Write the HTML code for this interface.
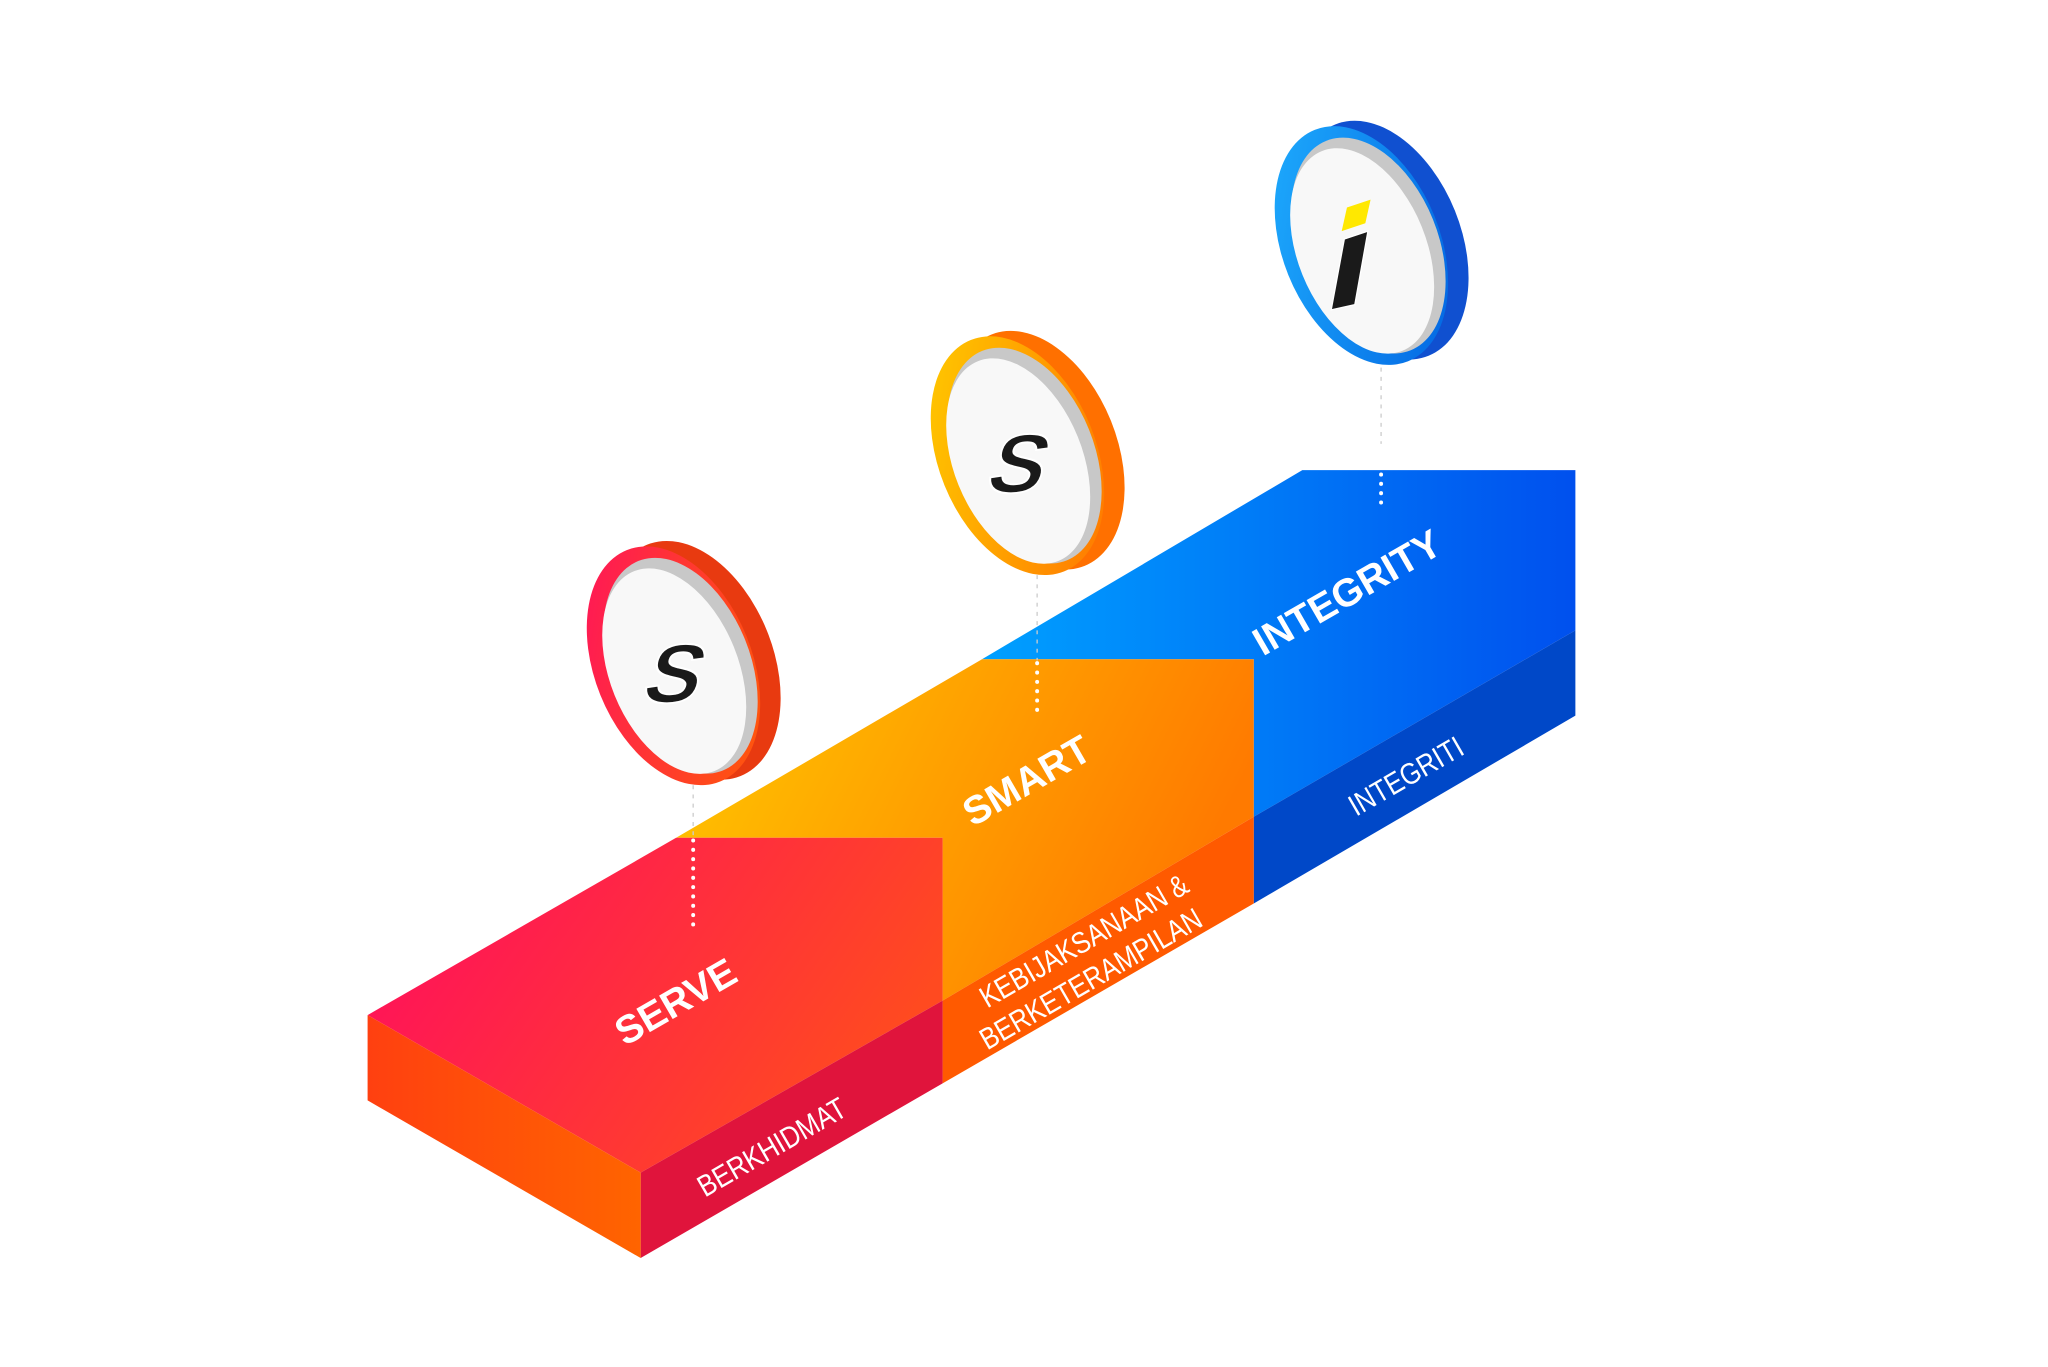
<!DOCTYPE html>
<html><head><meta charset="utf-8"><style>html,body{margin:0;padding:0;background:#fff;width:2048px;height:1367px;overflow:hidden}svg{display:block}</style></head>
<body>
<svg width="2048" height="1367" viewBox="0 0 1560 1041" preserveAspectRatio="none" xmlns="http://www.w3.org/2000/svg" font-family="Liberation Sans, sans-serif">
<defs>
<linearGradient id="rTop" x1="0" y1="0" x2="1" y2="0.4"><stop offset="0" stop-color="#ff0a62"/><stop offset="1" stop-color="#ff4a20"/></linearGradient>
<linearGradient id="rLeft" x1="0" y1="0" x2="1" y2="0"><stop offset="0" stop-color="#ff4010"/><stop offset="1" stop-color="#ff6400"/></linearGradient>
<linearGradient id="oTop" x1="0" y1="0" x2="1" y2="0.3"><stop offset="0" stop-color="#ffc800"/><stop offset="1" stop-color="#ff7a00"/></linearGradient>
<linearGradient id="bTop" x1="0" y1="0" x2="1" y2="0"><stop offset="0" stop-color="#00a0ff"/><stop offset="1" stop-color="#0050ee"/></linearGradient>
<linearGradient id="dR" x1="0" y1="0" x2="1" y2="1"><stop offset="0" stop-color="#ff1060"/><stop offset="1" stop-color="#ff6000"/></linearGradient>
<linearGradient id="dO" x1="0" y1="0" x2="1" y2="1"><stop offset="0" stop-color="#ffd000"/><stop offset="1" stop-color="#ff7000"/></linearGradient>
<linearGradient id="dB" x1="0" y1="0" x2="1" y2="1"><stop offset="0" stop-color="#20b0ff"/><stop offset="1" stop-color="#0060e0"/></linearGradient>
</defs>
<polygon points="748,502 992,358 1200,358 1200,480 955,622 955,502" fill="url(#bTop)"/>
<polygon points="955,622 1200,480 1200,545 955,688" fill="#0048c8"/>
<polygon points="515,638 748,502 955,502 955,622 718,762 718,638" fill="url(#oTop)"/>
<polygon points="718,762 955,622 955,688 718,825" fill="#ff5a00"/>
<polygon points="280,773 515,638 718,638 718,762 488,893" fill="url(#rTop)"/>
<polygon points="488,893 718,762 718,825 488,958" fill="#e0143c"/>
<polygon points="280,773 488,893 488,958 280,838" fill="url(#rLeft)"/>
<g stroke="#fff" stroke-width="3" stroke-dasharray="0.1 7" stroke-linecap="round">
<line x1="528" y1="640" x2="528" y2="705"/><line x1="790" y1="505" x2="790" y2="545"/><line x1="1052" y1="340" x2="1052" y2="385"/></g>
<g stroke="#ccc" stroke-width="1" stroke-dasharray="3 4" fill="none">
<line x1="528" y1="598" x2="528" y2="638"/><line x1="790" y1="438" x2="790" y2="503"/><line x1="1052" y1="280" x2="1052" y2="338"/></g>
<g fill="#fff" font-weight="bold" font-size="30">
<text transform="translate(476,797) rotate(-30)">SERVE</text>
<text transform="translate(741,630) rotate(-30)">SMART</text>
<text transform="translate(962,500) rotate(-30)">INTEGRITY</text>
</g>
<g fill="#fff" font-size="23">
<text transform="translate(537,912) rotate(-30) scale(0.85,1)">BERKHIDMAT</text>
<text transform="translate(752,768) rotate(-30) scale(0.85,1)">KEBIJAKSANAAN &amp;</text>
<text transform="translate(752,800) rotate(-30) scale(0.85,1)">BERKETERAMPILAN</text>
<text transform="translate(1033,622) rotate(-30) scale(0.85,1)">INTEGRITI</text>
</g>
<g transform="translate(513,507) rotate(-22)">
<ellipse cx="16" cy="2" rx="60" ry="95" fill="#e83a10"/>
<ellipse cx="0" cy="0" rx="60" ry="95" fill="url(#dR)"/>
<ellipse cx="5" cy="2" rx="53" ry="86" fill="#c8c8c8"/>
<ellipse cx="-1" cy="4" rx="49" ry="82" fill="#f8f8f8"/>
</g>
<text transform="translate(508,535) skewX(-18)" font-size="64" font-weight="bold" fill="#1a1a1a" stroke="#fff" stroke-width="1.5" text-anchor="middle">S</text>
<g transform="translate(775,347) rotate(-22)">
<ellipse cx="16" cy="2" rx="60" ry="95" fill="#ff7000"/>
<ellipse cx="0" cy="0" rx="60" ry="95" fill="url(#dO)"/>
<ellipse cx="5" cy="2" rx="53" ry="86" fill="#c8c8c8"/>
<ellipse cx="-1" cy="4" rx="49" ry="82" fill="#f8f8f8"/>
</g>
<text transform="translate(770,375) skewX(-18)" font-size="64" font-weight="bold" fill="#1a1a1a" stroke="#fff" stroke-width="1.5" text-anchor="middle">S</text>
<g transform="translate(1037,187) rotate(-22)">
<ellipse cx="16" cy="2" rx="60" ry="95" fill="#1050d0"/>
<ellipse cx="0" cy="0" rx="60" ry="95" fill="url(#dB)"/>
<ellipse cx="5" cy="2" rx="53" ry="86" fill="#c8c8c8"/>
<ellipse cx="-1" cy="4" rx="49" ry="82" fill="#f8f8f8"/>
</g>
<polygon points="1026,158 1044,152 1040,170 1022,176" fill="#ffe800"/>
<polygon points="1024,182 1042,176 1032,232 1014,236" fill="#1a1a1a" stroke="#fff" stroke-width="1"/>
</svg>
</body></html>
